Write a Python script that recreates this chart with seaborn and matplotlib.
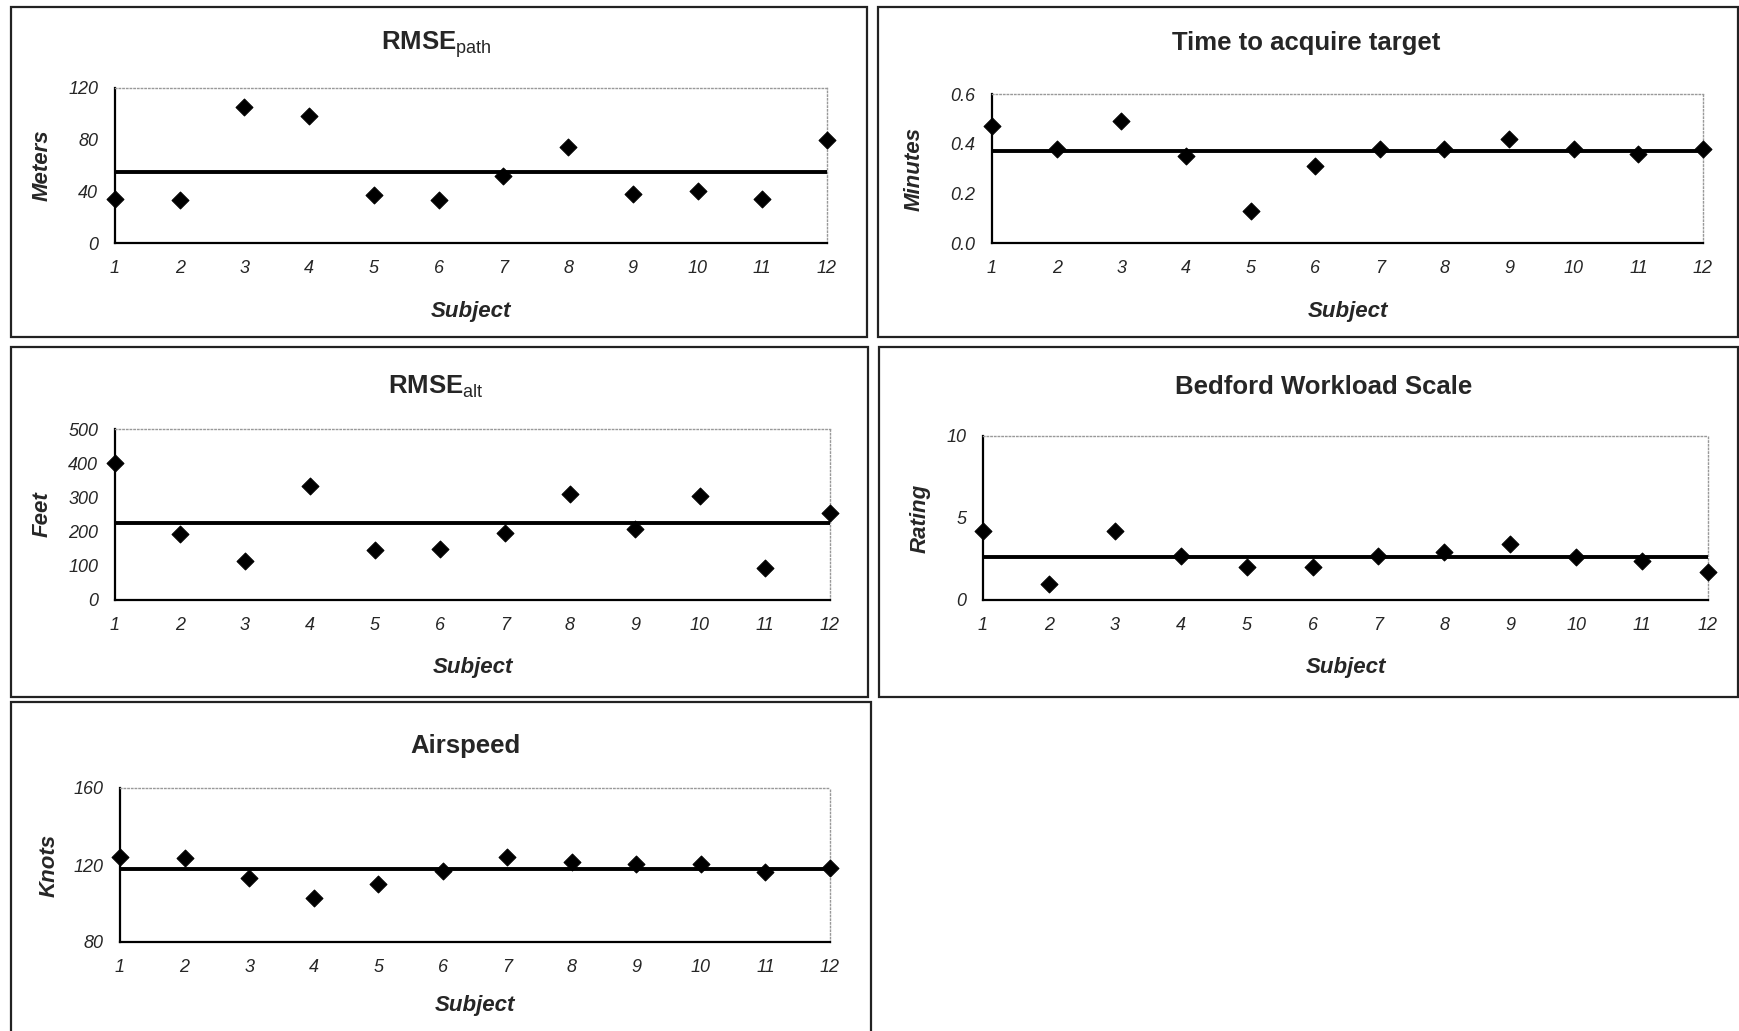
import numpy as np
import pandas as pd
import matplotlib
matplotlib.use("Agg")
import matplotlib.pyplot as plt
from matplotlib.patches import Rectangle
import seaborn as sns

# data
subjects = list(range(1, 13))
rmse_path = [34, 33, 105, 98, 37, 33, 52, 74, 38, 40, 34, 80]
time_target = [0.47, 0.38, 0.49, 0.35, 0.13, 0.31, 0.38, 0.38, 0.42, 0.38, 0.36, 0.38]
rmse_alt = [400, 192, 115, 332, 145, 150, 195, 310, 209, 305, 93, 254]
bedford = [4.2, 1.0, 4.2, 2.7, 2.0, 2.0, 2.7, 2.9, 3.4, 2.6, 2.4, 1.7]
airspeed = [124, 123.5, 113, 103, 110, 117, 124, 121.5, 120.5, 120.5, 116.5, 118.5]

sns.set_style("white")
plt.rcParams['font.family'] = ['Liberation Sans', 'DejaVu Sans']
plt.rcParams['mathtext.fontset'] = 'custom'
plt.rcParams['mathtext.rm'] = 'Liberation Sans'

W, H = 1740, 1031
fig = plt.figure(figsize=(W / 100, H / 100), dpi=100)


def frame(l, t, r, b):
    fig.add_artist(Rectangle((l / W, 1 - b / H), (r - l) / W, (b - t) / H,
                             transform=fig.transFigure, fill=False,
                             edgecolor='#222222', linewidth=1.6))


def panel(box, axbox, values, title, ylabel, yticks, yfmt, title_xy, ylab_x, xlab_y):
    frame(*box)
    l, t, r, b = axbox
    ax = fig.add_axes([l / W, 1 - b / H, (r - l) / W, (b - t) / H])
    df = pd.DataFrame({'Subject': subjects, 'Value': values})
    sns.scatterplot(data=df, x='Subject', y='Value', marker='D', s=75,
                    color='black', edgecolor='black', ax=ax, clip_on=False, zorder=4)
    # horizontal line at the mean of the series
    ax.axhline(np.mean(values), color='black', linewidth=2.8, zorder=3)
    ax.set_xlim(1, 12)
    ax.set_ylim(yticks[0], yticks[-1])
    ax.set_xticks(subjects)
    ax.set_yticks(yticks)
    ax.set_yticklabels([yfmt.format(v) for v in yticks])
    ax.tick_params(direction='out', length=4, width=1.3, labelsize=13,
                   color='black', pad=8)
    for lab in ax.get_xticklabels() + ax.get_yticklabels():
        lab.set_fontstyle('italic')
    for side in ['left', 'bottom']:
        ax.spines[side].set_color('black')
        ax.spines[side].set_linewidth(1.6)
    for side in ['top', 'right']:
        ax.spines[side].set_color('#999999')
        ax.spines[side].set_linestyle(':')
        ax.spines[side].set_linewidth(1.0)
    ax.set_xlabel('')
    ax.set_ylabel('')
    fig.text(title_xy[0] / W, 1 - title_xy[1] / H, title, ha='center', va='center',
             fontsize=18.5, fontweight='bold')
    fig.text(ylab_x / W, 1 - (t + b) / 2 / H, ylabel, ha='center', va='center',
             rotation=90, fontsize=16, fontweight='bold', fontstyle='italic')
    fig.text((l + r) / 2 / W, 1 - xlab_y / H, 'Subject', ha='center', va='center',
             fontsize=16, fontweight='bold', fontstyle='italic')
    return ax


panel((11, 7, 867, 337), (115, 88, 827, 243), rmse_path,
      r'RMSE$_{\mathrm{path}}$', 'Meters', [0, 40, 80, 120], '{:.0f}',
      (436, 44), 42, 311)
panel((878, 7, 1738, 337), (992, 94, 1703, 243), time_target,
      'Time to acquire target', 'Minutes', [0.0, 0.2, 0.4, 0.6], '{:.1f}',
      (1306, 43), 914, 311)
panel((11, 347, 868, 697), (115, 429, 830, 600), rmse_alt,
      r'RMSE$_{\mathrm{alt}}$', 'Feet', [0, 100, 200, 300, 400, 500], '{:.0f}',
      (436, 387), 42, 668)
panel((879, 347, 1738, 697), (983, 436, 1708, 600), bedford,
      'Bedford Workload Scale', 'Rating', [0, 5, 10], '{:.0f}',
      (1324, 387), 920, 668)
panel((11, 702, 871, 1040), (120, 788, 830, 942), airspeed,
      'Airspeed', 'Knots', [80, 120, 160], '{:.0f}',
      (465, 746), 49, 1005)

fig.savefig('out.png', dpi=100)
